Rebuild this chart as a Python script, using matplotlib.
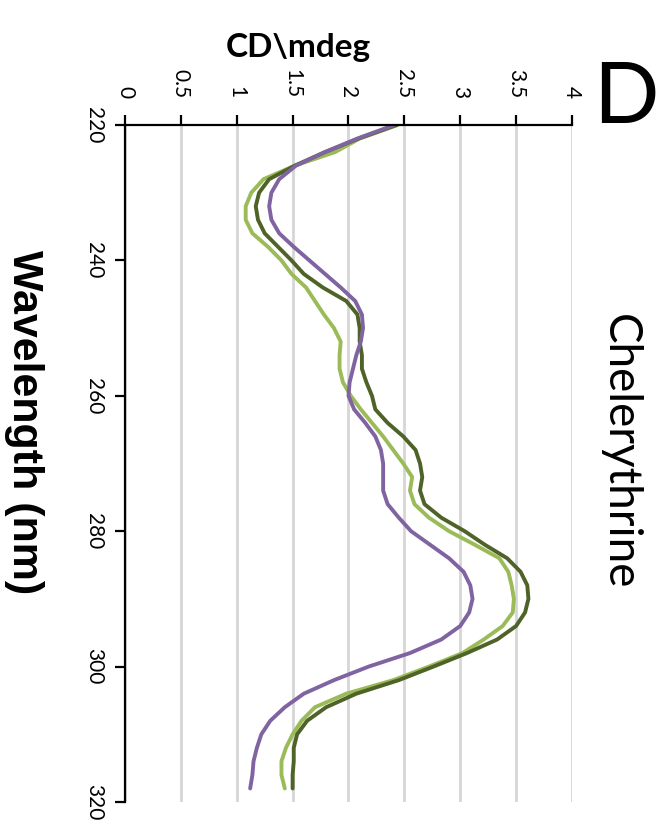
import matplotlib
matplotlib.use("Agg")
import matplotlib.pyplot as plt

# CD spectra, chelerythrine series (wavelength in nm, CD in mdeg)
wavelength = [220, 222, 224, 226, 228, 230, 232, 234, 236, 238,
              240, 242, 244, 246, 248, 250, 252, 254, 256, 258,
              260, 262, 264, 266, 268, 270, 272, 274, 276, 278,
              280, 282, 284, 286, 288, 290, 292, 294, 296, 298,
              300, 302, 304, 306, 308, 310, 312, 314, 316, 318]

cd_purple = [2.41, 2.08, 1.79, 1.53, 1.38, 1.31, 1.29, 1.31, 1.38, 1.51,
             1.65, 1.79, 1.93, 2.06, 2.12, 2.13, 2.11, 2.07, 2.04, 2.01,
             2.00, 2.05, 2.15, 2.24, 2.29, 2.31, 2.31, 2.31, 2.35, 2.45,
             2.56, 2.73, 2.90, 3.03, 3.09, 3.11, 3.08, 3.00, 2.83, 2.55,
             2.18, 1.87, 1.60, 1.43, 1.30, 1.22, 1.18, 1.15, 1.14, 1.12]

cd_light = [2.44, 2.10, 1.88, 1.52, 1.24, 1.13, 1.08, 1.08, 1.14, 1.28,
            1.40, 1.49, 1.62, 1.70, 1.78, 1.87, 1.93, 1.92, 1.92, 1.95,
            2.02, 2.11, 2.21, 2.31, 2.40, 2.49, 2.57, 2.55, 2.59, 2.72,
            2.90, 3.13, 3.35, 3.43, 3.46, 3.48, 3.47, 3.38, 3.21, 3.02,
            2.72, 2.40, 1.98, 1.70, 1.58, 1.50, 1.44, 1.40, 1.40, 1.43]

cd_dark = [2.43, 2.09, 1.79, 1.52, 1.29, 1.20, 1.17, 1.19, 1.25, 1.37,
           1.49, 1.60, 1.77, 1.98, 2.08, 2.10, 2.10, 2.12, 2.12, 2.16,
           2.21, 2.24, 2.35, 2.49, 2.60, 2.64, 2.66, 2.64, 2.68, 2.83,
           3.04, 3.22, 3.42, 3.54, 3.60, 3.61, 3.58, 3.50, 3.33, 3.06,
           2.76, 2.45, 2.07, 1.80, 1.63, 1.54, 1.51, 1.51, 1.50, 1.50]

cd_ticks = [0, 0.5, 1, 1.5, 2, 2.5, 3, 3.5, 4]
wl_ticks = [220, 240, 260, 280, 300, 320]

SANS = ["Lato", "DejaVu Sans"]


def main():
    fig = plt.figure(figsize=(6.61, 8.30), dpi=100)
    ax = fig.add_axes([125 / 661, 28 / 830, 447 / 661, 677 / 830])

    # plot is turned on its side: wavelength runs down, CD runs right
    line_kw = dict(lw=2.8, solid_joinstyle="round", solid_capstyle="round")
    ax.plot(cd_light, wavelength, color="#9bbb59", zorder=3, **line_kw)
    ax.plot(cd_dark, wavelength, color="#4f6228", zorder=4, **line_kw)
    ax.plot(cd_purple, wavelength, color="#8064a2", zorder=5, **line_kw)

    ax.set_xlim(0, 4)
    ax.set_ylim(320, 220)
    ax.set_xticks(cd_ticks)
    ax.set_xticklabels([f"{t:g}" for t in cd_ticks])
    ax.set_yticks(wl_ticks)
    ax.set_yticklabels([str(t) for t in wl_ticks])

    ax.xaxis.tick_top()
    ax.grid(axis="x", color="#d6d6d6", lw=2.0, zorder=1)
    ax.set_axisbelow(True)

    for side in ("right", "bottom"):
        ax.spines[side].set_visible(False)
    for side in ("left", "top"):
        ax.spines[side].set_linewidth(1.6)
        ax.spines[side].set_color("black")
        ax.spines[side].set_zorder(6)

    ax.tick_params(axis="both", direction="out", length=7, width=1.6,
                   labelsize=15, labelrotation=-90)
    ax.tick_params(axis="x", pad=12)
    ax.tick_params(axis="y", pad=8)
    for lab in ax.get_xticklabels() + ax.get_yticklabels():
        lab.set_family(SANS)
    # wavelength labels: centred on the tick, glyph tops facing the axis
    for lab in ax.get_yticklabels():
        lab.set_rotation_mode("anchor")
        lab.set_horizontalalignment("center")
        lab.set_verticalalignment("top")

    fig.text(298 / 661, 1 - 47 / 830, "CD\\mdeg", ha="center", va="center",
             fontsize=24, fontweight="bold", family=SANS)
    fig.text(24 / 661, 1 - 422 / 830, "Wavelength (nm)", rotation=-90,
             ha="center", va="center", fontsize=31, fontweight="bold",
             family=["Liberation Sans", "DejaVu Sans"])
    fig.text(620 / 661, 1 - 452 / 830, "Chelerythrine", rotation=-90,
             ha="center", va="center", fontsize=33, family=SANS)
    fig.text(626 / 661, 1 - 99 / 830, "D", ha="center", va="center",
             fontsize=62, family=SANS)

    fig.savefig("out.png", dpi=100, facecolor="white")


if __name__ == "__main__":
    main()
